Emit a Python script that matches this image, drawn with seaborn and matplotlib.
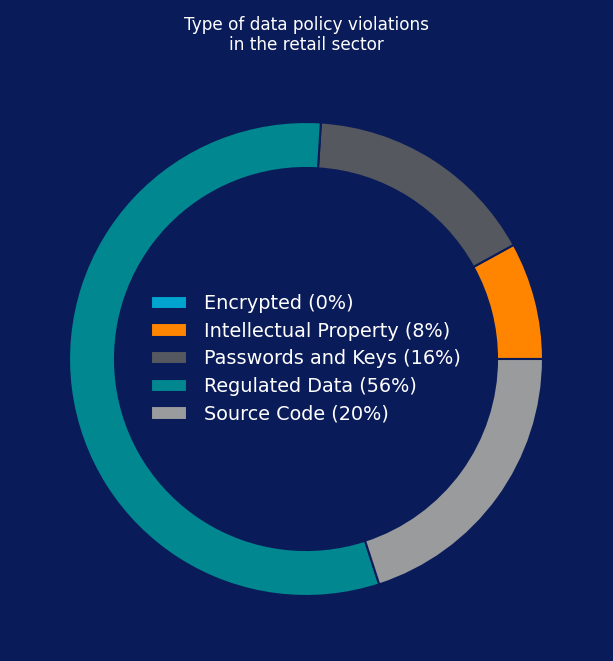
import matplotlib
matplotlib.use("Agg")
import matplotlib.pyplot as plt
import seaborn as sns

# ---- Data ----
categories = ["Encrypted", "Intellectual Property", "Passwords and Keys",
              "Regulated Data", "Source Code"]
shares = [0, 8, 16, 56, 20]
colors = ["#00A5CF", "#FF8500", "#55595F", "#00878F", "#9A9B9D"]

bg = "#0A1B59"

sns.set_theme(style="dark", rc={"figure.facecolor": bg, "axes.facecolor": bg,
                                "text.color": "white"})
plt.rcParams["font.family"] = ["DejaVu Sans"]

fig = plt.figure(figsize=(6.13, 6.61), dpi=100)
W, H = 613, 661
cx, cy, r = 306, 661 - 359, 237
ax = fig.add_axes([(cx - r) / W, (cy - r) / H, 2 * r / W, 2 * r / H])

# donut ring, first slice starting at 3 o'clock, going counterclockwise
wedges, _ = ax.pie(shares, colors=colors, startangle=0, counterclock=True,
                   radius=1.0,
                   wedgeprops=dict(width=46 / r, edgecolor=bg, linewidth=1.5))
ax.set_xlim(-1, 1)
ax.set_ylim(-1, 1)
ax.set_aspect("equal")
ax.axis("off")

labels = [f"{c} ({s}%)" for c, s in zip(categories, shares)]
leg = ax.legend(wedges, labels, loc="center", frameon=False, fontsize=13.9,
                labelspacing=0.45, handlelength=1.85, handleheight=0.68,
                handletextpad=0.85)
for t in leg.get_texts():
    t.set_color("white")

fig.text(0.5, 1 - 35 / H, "Type of data policy violations\nin the retail sector",
         ha="center", va="center", fontsize=12.2, color="white", linespacing=1.2)

fig.savefig("out.png", dpi=100, facecolor=bg)
